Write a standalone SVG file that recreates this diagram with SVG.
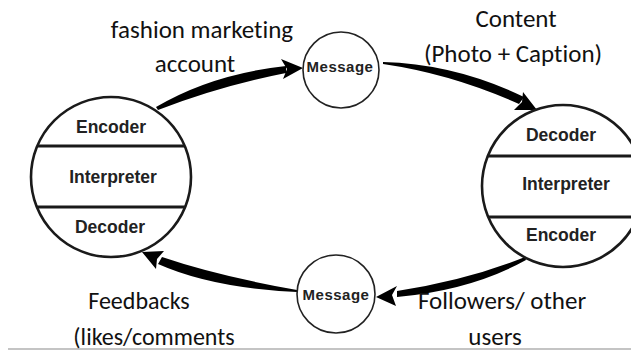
<svg xmlns="http://www.w3.org/2000/svg" width="631" height="355" viewBox="0 0 631 355">
<style>
.ring{fill:#fff;stroke:#1a1a1a;stroke-width:2.6}
.div{stroke:#1a1a1a;stroke-width:3}
.small{fill:#fff;stroke:#222;stroke-width:1.6}
.nt{font-family:"Liberation Sans",Arial,sans-serif;font-weight:bold;font-size:17.5px;fill:#222;text-anchor:middle}
.mt{font-family:"Liberation Sans",Arial,sans-serif;font-weight:bold;font-size:15px;fill:#222;text-anchor:middle;letter-spacing:0.5px}
.lb{font-family:Carlito,"Liberation Sans",Arial,sans-serif;font-size:25px;fill:#111;text-anchor:middle;font-variant-ligatures:none}
.lb2{font-family:Carlito,"Liberation Sans",Arial,sans-serif;font-size:24px;fill:#111;text-anchor:middle;font-variant-ligatures:none}
.ar{fill:#000}
</style>
<rect width="631" height="355" fill="#fff"/>
<line x1="8" y1="349" x2="631" y2="349" stroke="#c4c4c4" stroke-width="2"/>

<g id="connectors">
  <path class="ar" d="M156,107 Q212,74 286,66 L286,73 Q220,86 158,110 Z"/>
  <path class="ar" d="M303,68 L281,59 L287,69 L283,79 Z"/>
  <path class="ar" d="M383,62 Q456,64 524,97 L519,104 Q452,74 383,64 Z"/>
  <path class="ar" d="M537,110 L523,92 L522,102 L514,110 Z"/>
  <path class="ar" d="M525,257 Q468,280 397,291 L397,297 Q472,290 526,260 Z"/>
  <path class="ar" d="M376,297 L397,286 L392,295 L396,306 Z"/>
  <path class="ar" d="M297,290 Q218,276 162,257 L158,264 Q212,288 297,292 Z"/>
  <path class="ar" d="M142,252 L164,251 L157,259 L156,269 Z"/>
</g>

<g id="sender">
  <circle class="ring" cx="111" cy="177" r="80"/>
  <line class="div" x1="37.3" y1="146" x2="184.7" y2="146"/>
  <line class="div" x1="36.8" y1="207" x2="185.2" y2="207"/>
  <text class="nt" x="111" y="133">Encoder</text>
  <text class="nt" x="113" y="183">Interpreter</text>
  <text class="nt" x="110" y="233">Decoder</text>
</g>

<g id="receiver">
  <circle class="ring" cx="563" cy="186" r="81"/>
  <line class="div" x1="487.8" y1="156" x2="631" y2="156"/>
  <line class="div" x1="488" y1="217" x2="631" y2="217"/>
  <text class="nt" x="561" y="141">Decoder</text>
  <text class="nt" x="566" y="190">Interpreter</text>
  <text class="nt" x="561" y="241">Encoder</text>
</g>

<g id="message-top">
  <circle class="small" cx="341" cy="70" r="38"/>
  <text class="mt" x="340" y="72">Message</text>
</g>

<g id="message-bottom">
  <circle class="small" cx="336" cy="294" r="39"/>
  <text class="mt" x="336" y="300">Message</text>
</g>

<g id="labels">
  <text class="lb" x="202" y="38">fashion marketing</text>
  <text class="lb" x="195" y="72">account</text>
  <text class="lb" x="516" y="27">Content</text>
  <text class="lb" x="513" y="62">(Photo + Caption)</text>
  <text class="lb2" x="139" y="309">Feedbacks</text>
  <text class="lb2" x="154" y="345">(likes/comments</text>
  <text class="lb" x="502" y="309">Followers/ other</text>
  <text class="lb" x="495" y="345">users</text>
</g>
</svg>
